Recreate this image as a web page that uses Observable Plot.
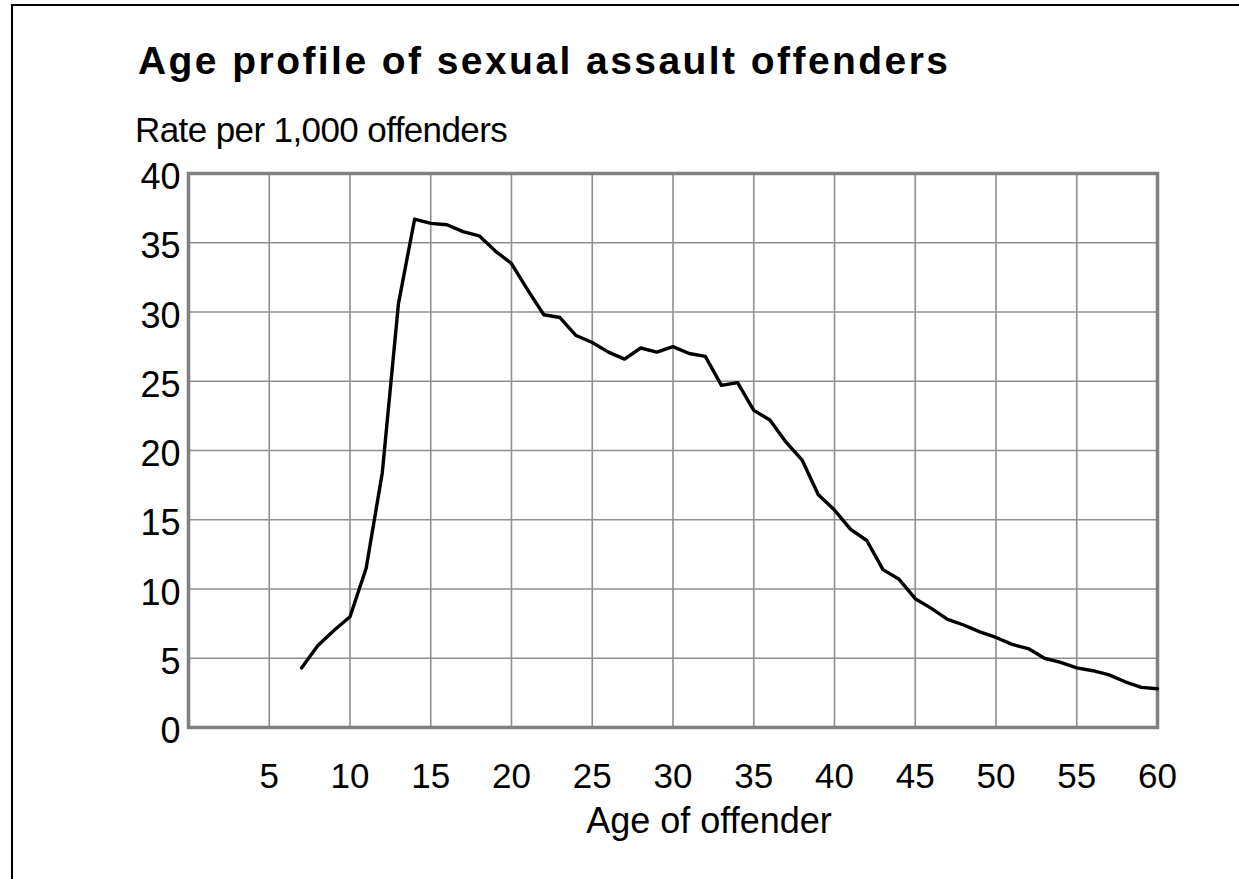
<!DOCTYPE html>
<html>
<head>
<meta charset="utf-8">
<script src="https://cdn.jsdelivr.net/npm/d3@7"></script>
<script src="https://cdn.jsdelivr.net/npm/@observablehq/plot@0.6"></script>
<style>
  html, body { margin: 0; padding: 0; background: #fff; width: 1239px; height: 879px; overflow: hidden; }
  body { font-family: "Liberation Sans", Arial, Helvetica, sans-serif; position: relative; }
  #border { position: absolute; left: 11px; top: 4px; width: 1400px; height: 1000px;
            border-left: 2.5px solid #000; border-top: 2.5px solid #000; }
  #title { position: absolute; left: 138px; top: 39px; margin: 0; font-size: 39px; font-weight: bold;
           white-space: nowrap; line-height: 44px; color: #000; }
  #subtitle { position: absolute; left: 135px; top: 111px; margin: 0; font-size: 35px;
              white-space: nowrap; line-height: 38px; color: #000; letter-spacing: -0.6px; }
  #chart { position: absolute; left: 0; top: 150px; }
</style>
</head>
<body>
<div id="border"></div>
<h2 id="title">Age profile of sexual assault offenders</h2>
<div id="subtitle">Rate per 1,000 offenders</div>
<div id="chart"></div>
<script>
// Data
const ages = [7, 8, 9, 10, 11, 12, 13, 14, 15, 16, 17, 18, 19, 20, 21, 22, 23, 24, 25, 26,
  27, 28, 29, 30, 31, 32, 33, 34, 35, 36, 37, 38, 39, 40, 41, 42, 43, 44, 45, 46,
  47, 48, 49, 50, 51, 52, 53, 54, 55, 56, 57, 58, 59, 60];
const rates = [4.3, 5.9, 7.0, 8.0, 11.5, 18.4, 30.6, 36.7, 36.4, 36.3, 35.8, 35.5, 34.4, 33.5, 31.6, 29.8, 29.6, 28.3, 27.8, 27.1,
  26.6, 27.4, 27.1, 27.5, 27.0, 26.8, 24.7, 24.9, 22.9, 22.2, 20.6, 19.3, 16.8, 15.7, 14.3, 13.5, 11.4, 10.7, 9.3, 8.6,
  7.8, 7.4, 6.9, 6.5, 6.0, 5.7, 5.0, 4.7, 4.3, 4.1, 3.8, 3.3, 2.9, 2.8];
const xTicks = [5, 10, 15, 20, 25, 30, 35, 40, 45, 50, 55, 60];
const yTicks = [0, 5, 10, 15, 20, 25, 30, 35, 40];
const xLabel = "Age of offender";

const data = ages.map((a, i) => ({age: a, rate: rates[i]}));

// Fit title letter spacing to reference width
(function () {
  const t = document.getElementById("title");
  const c = document.createElement("canvas").getContext("2d");
  c.font = 'bold 39px "Liberation Sans", Arial, sans-serif';
  const w = c.measureText(t.textContent).width;
  const target = 810;
  const n = t.textContent.length;
  t.style.letterSpacing = Math.max(0, (target - w) / (n - 1)) + "px";
})();

const chart = Plot.plot({
  width: 1239,
  height: 729,
  marginLeft: 188,
  marginRight: 82,
  marginTop: 23,
  marginBottom: 152,
  style: {fontFamily: '"Liberation Sans", Arial, sans-serif', background: "transparent", color: "#000"},
  x: {domain: [0, 60]},
  y: {domain: [0, 40]},
  marks: [
    Plot.gridX(xTicks.filter(d => d < 60), {stroke: "#8f8f8f", strokeOpacity: 1, strokeWidth: 1.6}),
    Plot.gridY(yTicks.filter(d => d > 0 && d < 40), {stroke: "#8f8f8f", strokeOpacity: 1, strokeWidth: 1.6}),
    Plot.frame({stroke: "#808080", strokeWidth: 3.5}),
    Plot.line(data, {x: "age", y: "rate", stroke: "#000", strokeWidth: 3.4, strokeLinejoin: "round", strokeLinecap: "round"}),
    Plot.axisY(yTicks, {tickSize: 0, tickPadding: 8, fontSize: 36, dy: 4, label: null, fill: "#000"}),
    Plot.axisX(xTicks, {tickSize: 0, tickPadding: 36, fontSize: 35, label: null, fill: "#000"}),
    Plot.text([xLabel], {frameAnchor: "bottom", dx: 36, dy: 105, fontSize: 36, fill: "#000", text: d => d})
  ]
});
document.getElementById("chart").appendChild(chart);
</script>
</body>
</html>
